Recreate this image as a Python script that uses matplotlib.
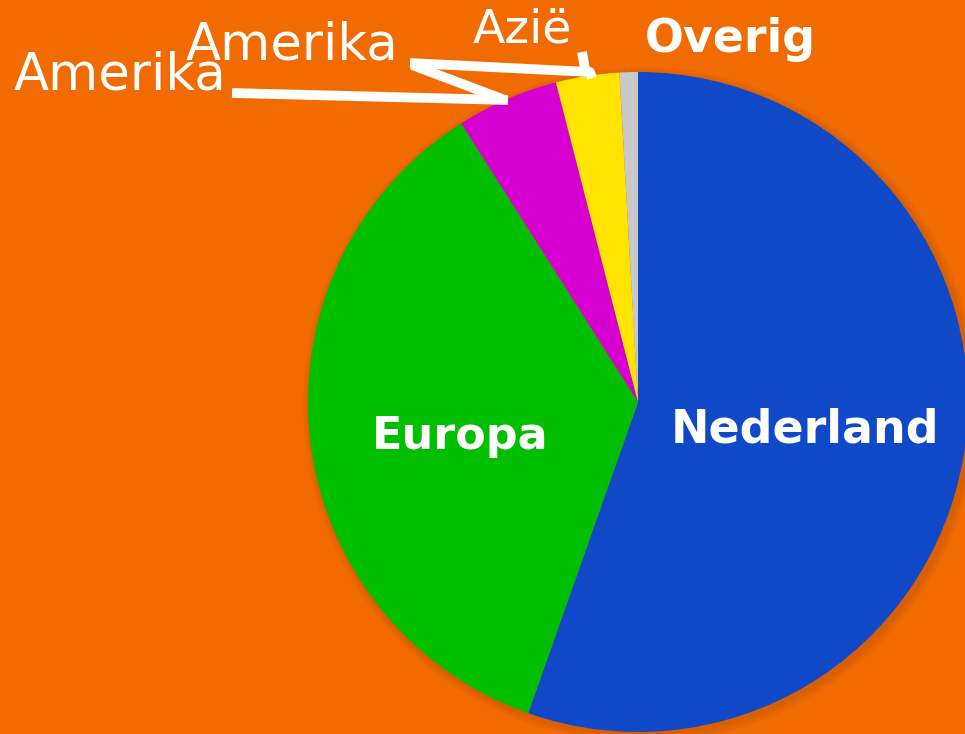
import matplotlib.pyplot as plt
from matplotlib.patches import Circle

# Slice values (percent)
regions = ['Nederland', 'Europa', 'Amerika', 'Azië', 'Overig']
shares = [55.4, 35.6, 5.0, 3.1, 0.9]
colors = ['#1049C8', '#00BE00', '#D500D0', '#FFE400', '#C8C8C8']

bg = '#F26B00'
plt.rcParams['font.family'] = ['DejaVu Sans']

fig = plt.figure(figsize=(9.65, 7.34), dpi=100)
fig.patch.set_facecolor(bg)
ax = fig.add_axes([0, 0, 1, 1])
ax.set_facecolor(bg)

cx, cy, r = 638, 332, 330

# soft shadow behind the pie
for i in range(4):
    ax.add_patch(Circle((cx + 3, cy - 3), r + 2 + 2 * i, color='#8a3a00',
                        alpha=0.06, lw=0, zorder=1))

ax.pie(shares, colors=colors, startangle=90, counterclock=False,
       center=(cx, cy), radius=r, frame=True,
       wedgeprops=dict(linewidth=0, zorder=2))
ax.set_xlim(0, 965)
ax.set_ylim(0, 734)
ax.set_aspect('equal')
ax.axis('off')

# inner labels
ax.text(805, 734 - 430, regions[0], color='white', fontsize=33, fontweight='bold',
        ha='center', va='center', zorder=5)
ax.text(460, 734 - 437, regions[1], color='white', fontsize=32, fontweight='bold',
        ha='center', va='center', zorder=5)


def outer(label, x, y, size=37, weight='normal'):
    ax.text(x, 734 - y, label, color='white', fontsize=size, fontweight=weight,
            ha='center', va='center', zorder=6)


def leader(pts):
    xs = [p[0] for p in pts]
    ys = [734 - p[1] for p in pts]
    ax.plot(xs, ys, color='white', lw=7, solid_capstyle='butt', zorder=6)


# leader lines
leader([(232, 93), (508, 100)])
leader([(410, 63), (590, 72), (592, 78)])
leader([(412, 65), (505, 100)])
leader([(582, 52), (586, 75)])

# outer labels
outer(regions[2], 120, 75)
outer(regions[2], 292, 46)
outer(regions[3], 522, 30, size=34)
outer(regions[4], 730, 40, size=33, weight='bold')

fig.savefig('out.png', dpi=100, facecolor=bg)
